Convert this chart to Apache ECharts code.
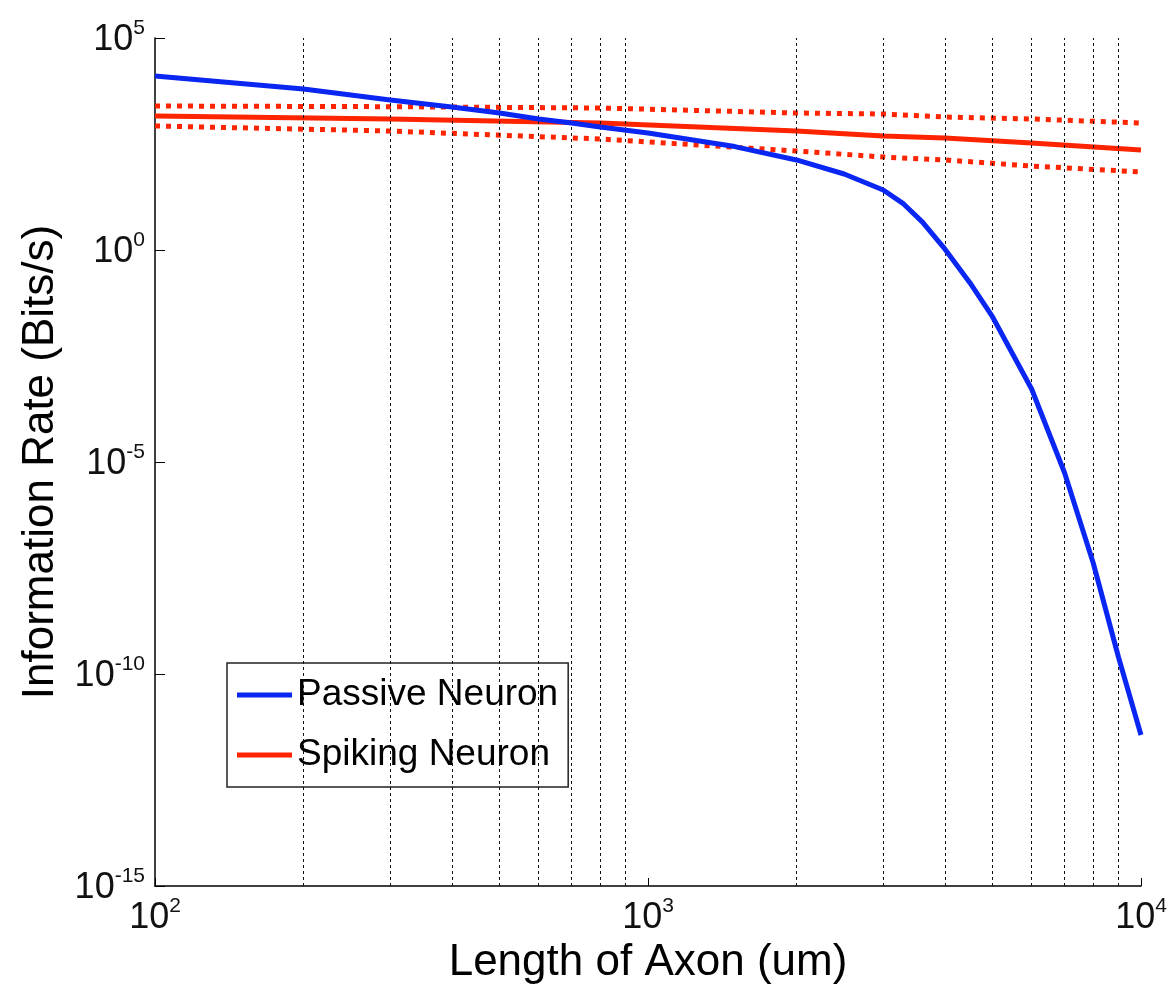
<!DOCTYPE html>
<html>
<head>
<meta charset="utf-8">
<script src="https://cdn.jsdelivr.net/npm/echarts@6/dist/echarts.min.js"></script>
<style>
html,body{margin:0;padding:0;background:#fff;}
#chart{width:1172px;height:991px;}
</style>
</head>
<body>
<div id="chart"></div>
<script>
// Axon length (um)
var passiveX = [100, 200, 300, 400, 500, 600, 700, 800, 1000, 1500, 2000, 2500, 3000, 3300, 3600, 4000, 4500, 5000, 6000, 7000, 8000, 9000, 10000];
// Passive neuron information rate (bits/s)
var passiveY = [1.27e4, 6.27e3, 3.45e3, 2.36e3, 1.70e3, 1.23e3, 9.9e2, 7.96e2, 5.74e2, 2.75e2, 1.33e2, 62, 26, 12.2, 4.6, 1.06, 0.167, 2.63e-2, 5.27e-4, 5.5e-6, 4.15e-8, 2.52e-10, 3.64e-12];

var spikingX = [100, 300, 800, 2000, 3000, 4000, 6000, 10000];
var spikingY = [1445, 1230, 989, 641, 489, 439, 334, 228];
var spikingUpper = [2490, 2400, 2234, 1702, 1614, 1371, 1230, 989];
var spikingLower = [841, 640, 415, 216, 156, 133, 95.7, 69.2];

// Tick positions
var xTicks = [100, 1000, 10000];
var yTicks = [1e-15, 1e-10, 1e-5, 1, 1e5];
// Minor grid positions on the x axis
var gridTicks = [200, 300, 400, 500, 600, 700, 800, 900, 2000, 3000, 4000, 5000, 6000, 7000, 8000, 9000];

function pairs(xs, ys){ return xs.map(function(x,i){ return [x, ys[i]]; }); }

var FONT = "'Liberation Sans', Arial, Helvetica, sans-serif";
var BLUE = '#0a26f2';
var RED = '#ff2400';

function powLabel(v){
  var e = Math.round(Math.log10(v));
  return '{b|10}{s|' + e + '}';
}
var richLab = {
  b: {fontSize: 36, fontFamily: FONT, color: '#111', verticalAlign: 'bottom', lineHeight: 40},
  s: {fontSize: 21, fontFamily: FONT, color: '#111', verticalAlign: 'top', lineHeight: 40}
};

var chart = echarts.init(document.getElementById('chart'), null, {renderer: 'canvas'});
chart.setOption({
  animation: false,
  backgroundColor: '#fff',
  grid: {left: 155, right: 31, top: 38, bottom: 105, containLabel: false},
  legend: {
    orient: 'vertical',
    left: 227, top: 663,
    data: ['Passive Neuron', 'Spiking Neuron'],
    icon: 'rect',
    itemWidth: 55, itemHeight: 5,
    itemGap: 20,
    padding: [12, 10, 12, 10],
    backgroundColor: '#fff',
    borderColor: '#222', borderWidth: 1.5,
    textStyle: {fontSize: 37, fontFamily: FONT, color: '#000', lineHeight: 40}
  },
  xAxis: {
    type: 'log', logBase: 10, min: 100, max: 10000, splitNumber: 2,
    name: 'Length of Axon (um)', nameLocation: 'middle', nameGap: 54,
    nameTextStyle: {fontSize: 44, fontFamily: FONT, color: '#000'},
    axisLine: {show: true, lineStyle: {color: '#000', width: 1.5}},
    axisTick: {show: true, inside: true, length: 8, lineStyle: {color: '#000'}, customValues: xTicks},
    axisLabel: {formatter: powLabel, rich: richLab, margin: 10, customValues: xTicks},
    splitLine: {show: false}
  },
  yAxis: {
    type: 'log', logBase: 10, min: 1e-15, max: 1e5, splitNumber: 4,
    name: 'Information Rate (Bits/s)', nameLocation: 'middle', nameGap: 92,
    nameTextStyle: {fontSize: 44, fontFamily: FONT, color: '#000'},
    axisLine: {show: true, lineStyle: {color: '#000', width: 1.5}},
    axisTick: {show: true, inside: true, length: 10, lineStyle: {color: '#000'}, customValues: yTicks},
    axisLabel: {formatter: powLabel, rich: richLab, margin: 10, customValues: yTicks},
    splitLine: {show: false}
  },
  series: [
    {
      name: 'grid', type: 'line', data: [], silent: true, z: 1,
      markLine: {
        silent: true, symbol: ['none', 'none'], label: {show: false},
        lineStyle: {color: '#111', width: 1, type: [3, 3]},
        data: gridTicks.map(function(v){ return {xAxis: v}; })
      }
    },
    {
      name: 'Spiking Neuron upper', type: 'line', data: pairs(spikingX, spikingUpper),
      showSymbol: false, z: 3,
      lineStyle: {color: RED, width: 5, type: [5, 6]}, itemStyle: {color: RED}
    },
    {
      name: 'Spiking Neuron lower', type: 'line', data: pairs(spikingX, spikingLower),
      showSymbol: false, z: 3,
      lineStyle: {color: RED, width: 5, type: [5, 6]}, itemStyle: {color: RED}
    },
    {
      name: 'Spiking Neuron', type: 'line', data: pairs(spikingX, spikingY),
      showSymbol: false, z: 4,
      lineStyle: {color: RED, width: 5}, itemStyle: {color: RED}
    },
    {
      name: 'Passive Neuron', type: 'line', data: pairs(passiveX, passiveY),
      showSymbol: false, z: 5,
      lineStyle: {color: BLUE, width: 5}, itemStyle: {color: BLUE}
    }
  ]
});
</script>
</body>
</html>
